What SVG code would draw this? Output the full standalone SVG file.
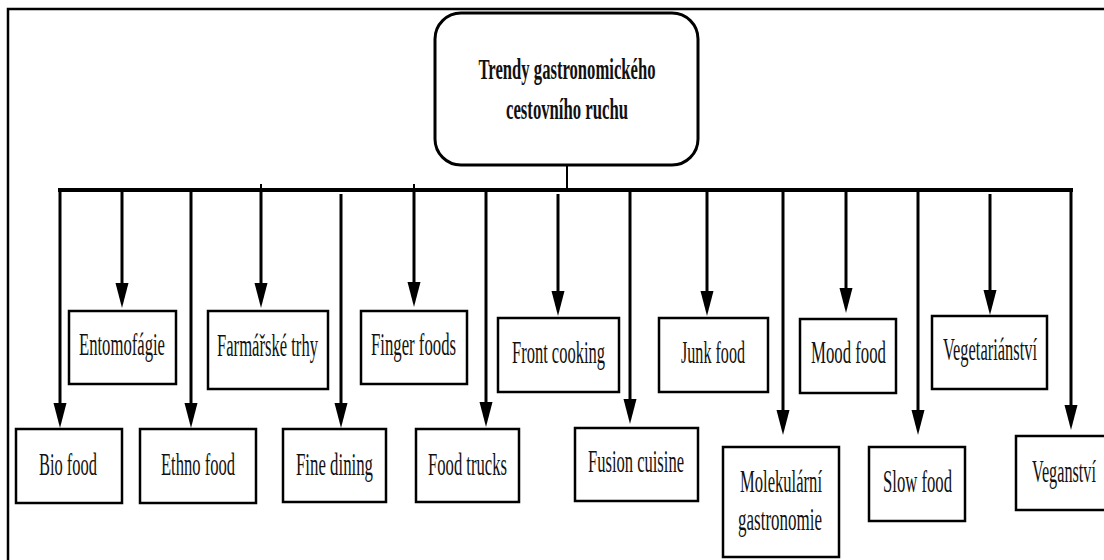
<svg xmlns="http://www.w3.org/2000/svg" width="1104" height="560" viewBox="0 0 1104 560">
<defs>
<style>
.frame{fill:none;stroke:#000;stroke-width:2.5}
.box{fill:#fff;stroke:#000;stroke-width:2.5}
.root{fill:#fff;stroke:#000;stroke-width:3}
.t{font-family:"Liberation Serif","Times New Roman",serif;font-size:17px;text-anchor:middle;fill:#111}
.tb{font-family:"Liberation Serif","Times New Roman",serif;font-size:16.5px;font-weight:bold;text-anchor:middle;fill:#111}
.bus{stroke:#000;stroke-width:4;fill:none}
.ln{stroke:#000;stroke-width:2;fill:none}
.arr{stroke:#000;stroke-width:3;fill:none;marker-end:url(#ah)}
</style>
<marker id="ah" markerUnits="userSpaceOnUse" markerWidth="26" markerHeight="14" refX="3" refY="6.5" orient="auto" overflow="visible">
<path d="M0,0 L25,6.5 L0,13 Z" fill="#000"/>
</marker>
</defs>
<rect width="1104" height="560" fill="#fff"/>
<path class="frame" d="M8,560 L8,9 L1104,9"/>

<g id="connectors">
<line class="ln" x1="567" y1="165" x2="567" y2="190"/>
<line class="bus" x1="58" y1="190" x2="1073" y2="190"/>
<line class="ln" x1="261" y1="184" x2="261" y2="190"/>
<line class="ln" x1="414" y1="184" x2="414" y2="190"/>
<line class="arr" x1="60" y1="188" x2="60" y2="406"/>
<line class="arr" x1="122" y1="190" x2="122" y2="286"/>
<line class="arr" x1="191" y1="190" x2="191" y2="406"/>
<line class="arr" x1="261" y1="190" x2="261" y2="286"/>
<line class="arr" x1="341" y1="194" x2="341" y2="406"/>
<line class="arr" x1="414" y1="190" x2="414" y2="285"/>
<line class="arr" x1="486" y1="190" x2="486" y2="405"/>
<line class="arr" x1="558" y1="194" x2="558" y2="294"/>
<line class="arr" x1="630" y1="190" x2="630" y2="402"/>
<line class="arr" x1="707" y1="190" x2="707" y2="294"/>
<line class="arr" x1="783" y1="190" x2="783" y2="413"/>
<line class="arr" x1="846" y1="190" x2="846" y2="291"/>
<line class="arr" x1="918" y1="190" x2="918" y2="413"/>
<line class="arr" x1="990" y1="194" x2="990" y2="293"/>
<line class="arr" x1="1071" y1="188" x2="1071" y2="408"/>
</g>

<g id="root">
<rect class="root" x="435" y="13" width="263" height="152" rx="26"/>
<text class="tb" transform="translate(567,79) scale(1,1.83)" textLength="177" lengthAdjust="spacingAndGlyphs">Trendy gastronomického</text>
<text class="tb" transform="translate(567,119) scale(1,1.83)" textLength="122" lengthAdjust="spacingAndGlyphs">cestovního ruchu</text>
</g>

<g id="bio-food">
<rect class="box" x="16" y="429" width="106" height="74"/>
<text class="t" transform="translate(68,475) scale(1,1.9)" textLength="58" lengthAdjust="spacingAndGlyphs">Bio food</text>
</g>
<g id="entomofagie">
<rect class="box" x="69" y="311" width="107" height="73"/>
<text class="t" transform="translate(122,355) scale(1,1.9)" textLength="86" lengthAdjust="spacingAndGlyphs">Entomofágie</text>
</g>
<g id="ethno-food">
<rect class="box" x="140" y="429" width="116" height="74"/>
<text class="t" transform="translate(198,475) scale(1,1.9)" textLength="74" lengthAdjust="spacingAndGlyphs">Ethno food</text>
</g>
<g id="farmarske-trhy">
<rect class="box" x="208" y="311" width="120" height="78"/>
<text class="t" transform="translate(267.5,356) scale(1,1.9)" textLength="101" lengthAdjust="spacingAndGlyphs">Farmářské trhy</text>
</g>
<g id="fine-dining">
<rect class="box" x="283" y="429" width="103" height="73"/>
<text class="t" transform="translate(334.5,475) scale(1,1.9)" textLength="77" lengthAdjust="spacingAndGlyphs">Fine dining</text>
</g>
<g id="finger-foods">
<rect class="box" x="361" y="311" width="106" height="73"/>
<text class="t" transform="translate(413.5,355) scale(1,1.9)" textLength="85" lengthAdjust="spacingAndGlyphs">Finger foods</text>
</g>
<g id="food-trucks">
<rect class="box" x="416" y="429" width="103" height="73"/>
<text class="t" transform="translate(467.5,475) scale(1,1.9)" textLength="79" lengthAdjust="spacingAndGlyphs">Food trucks</text>
</g>
<g id="front-cooking">
<rect class="box" x="498" y="318" width="121" height="74"/>
<text class="t" transform="translate(558.5,363) scale(1,1.9)" textLength="93" lengthAdjust="spacingAndGlyphs">Front cooking</text>
</g>
<g id="fusion-cuisine">
<rect class="box" x="575" y="428" width="123" height="73"/>
<text class="t" transform="translate(636,472) scale(1,1.9)" textLength="96" lengthAdjust="spacingAndGlyphs">Fusion cuisine</text>
</g>
<g id="junk-food">
<rect class="box" x="659" y="318" width="109" height="74"/>
<text class="t" transform="translate(713,363) scale(1,1.9)" textLength="64" lengthAdjust="spacingAndGlyphs">Junk food</text>
</g>
<g id="molekularni-gastronomie">
<rect class="box" x="723" y="447" width="116" height="110"/>
<text class="t" transform="translate(781,492) scale(1,1.9)" textLength="82" lengthAdjust="spacingAndGlyphs">Molekulární</text>
<text class="t" transform="translate(780,530) scale(1,1.9)" textLength="84" lengthAdjust="spacingAndGlyphs">gastronomie</text>
</g>
<g id="mood-food">
<rect class="box" x="800" y="319" width="96" height="74"/>
<text class="t" transform="translate(848.5,363) scale(1,1.9)" textLength="75" lengthAdjust="spacingAndGlyphs">Mood food</text>
</g>
<g id="slow-food">
<rect class="box" x="869" y="447" width="96" height="74"/>
<text class="t" transform="translate(917.5,492) scale(1,1.9)" textLength="69" lengthAdjust="spacingAndGlyphs">Slow food</text>
</g>
<g id="vegetarianstvi">
<rect class="box" x="932" y="316" width="115" height="73"/>
<text class="t" transform="translate(990,360) scale(1,1.9)" textLength="94" lengthAdjust="spacingAndGlyphs">Vegetariánství</text>
</g>
<g id="veganstvi">
<rect class="box" x="1016" y="436" width="96" height="74"/>
<text class="t" transform="translate(1064,482) scale(1,1.9)" textLength="64" lengthAdjust="spacingAndGlyphs">Veganství</text>
</g>
</svg>
